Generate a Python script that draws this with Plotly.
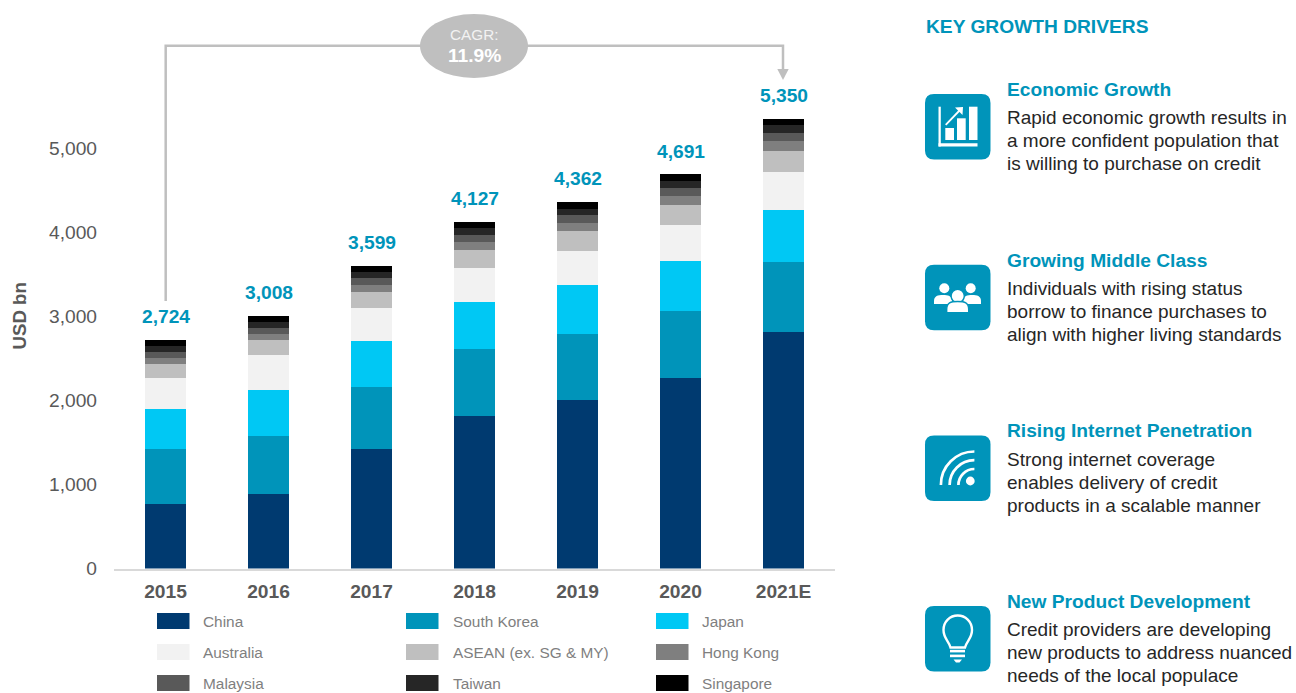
import plotly.graph_objects as go

W, H = 1296, 693
FONT = "Liberation Sans"

years = ["2015", "2016", "2017", "2018", "2019", "2020", "2021E"]
totals = [2724, 3008, 3599, 4127, 4362, 4691, 5350]
china = [764, 890, 1426, 1819, 2010, 2264, 2815]
south_korea = [655, 691, 738, 798, 785, 805, 837]
japan = [480, 544, 544, 552, 576, 592, 616]
australia = [369, 417, 393, 412, 409, 428, 452]
asean = [167, 178, 191, 211, 234, 238, 250]
hong_kong = [71, 72, 79, 95, 99, 108, 119]
malaysia = [71, 68, 84, 83, 95, 95, 96]
taiwan = [72, 71, 71, 80, 72, 83, 95]
singapore = [75, 77, 73, 77, 82, 78, 70]

series = [
    ("China", china, "#003A70"),
    ("South Korea", south_korea, "#0094BA"),
    ("Japan", japan, "#00C8F4"),
    ("Australia", australia, "#F2F2F2"),
    ("ASEAN (ex. SG & MY)", asean, "#BFBFBF"),
    ("Hong Kong", hong_kong, "#7F7F7F"),
    ("Malaysia", malaysia, "#595959"),
    ("Taiwan", taiwan, "#262626"),
    ("Singapore", singapore, "#000000"),
]

drivers = [
    ("Economic Growth", ["Rapid economic growth results in",
                         "a more confident population that",
                         "is willing to purchase on credit"]),
    ("Growing Middle Class", ["Individuals with rising status",
                              "borrow to finance purchases to",
                              "align with higher living standards"]),
    ("Rising Internet Penetration", ["Strong internet coverage",
                                     "enables delivery of credit",
                                     "products in a scalable manner"]),
    ("New Product Development", ["Credit providers are developing",
                                 "new products to address nuanced",
                                 "needs of the local populace"]),
]

TEAL = "#0094BA"
GREY = "#595959"
ARROW = "#BFBFBF"


def px(x):
    return x / W


def py(y):
    return 1 - y / H


def path(*cmds):
    out = []
    for c in cmds:
        letter, nums = c[0], c[1:]
        pts = [f"{px(nums[i]):.5f},{py(nums[i + 1]):.5f}" for i in range(0, len(nums), 2)]
        out.append(letter + " " + " ".join(pts))
    return " ".join(out)


shapes = []
annotations = []


def add_path(p, fill=None, line=None, lw=0):
    shapes.append(dict(type="path", xref="paper", yref="paper", path=p,
                       fillcolor=fill if fill else "rgba(0,0,0,0)",
                       line=dict(color=line if line else "rgba(0,0,0,0)", width=lw),
                       layer="above"))


def add_rect(x0, y0, x1, y1, fill):
    shapes.append(dict(type="rect", xref="paper", yref="paper", x0=px(x0), x1=px(x1),
                       y0=py(y0), y1=py(y1), fillcolor=fill, line=dict(width=0), layer="above"))


def add_circle(cx, cy, r, fill=None, line=None, lw=0):
    shapes.append(dict(type="circle", xref="paper", yref="paper", x0=px(cx - r), x1=px(cx + r),
                       y0=py(cy - r), y1=py(cy + r),
                       fillcolor=fill if fill else "rgba(0,0,0,0)",
                       line=dict(color=line if line else "rgba(0,0,0,0)", width=lw), layer="above"))


def text(x, y, s, size, color, bold=False, anchor="left"):
    annotations.append(dict(xref="paper", yref="paper", x=px(x), y=py(y), text=f"<b>{s}</b>" if bold else s,
                            showarrow=False, xanchor=anchor, yanchor="middle", borderpad=0,
                            xshift=-1 if anchor == "left" else 0,
                            font=dict(family=FONT, size=size, color=color)))


def rounded(x0, y0, x1, y1, r):
    return path(("M", x0 + r, y0), ("L", x1 - r, y0), ("Q", x1, y0, x1, y0 + r),
                ("L", x1, y1 - r), ("Q", x1, y1, x1 - r, y1), ("L", x0 + r, y1),
                ("Q", x0, y1, x0, y1 - r), ("L", x0, y0 + r), ("Q", x0, y0, x0 + r, y0), ("Z",))


# Bars
fig = go.Figure()
for name, vals, col in series:
    fig.add_trace(go.Bar(x=years, y=vals, name=name, marker=dict(color=col, line=dict(width=0)),
                         width=0.403, showlegend=False))

# Totals above bars (category position by index)
for i, tot in enumerate(totals):
    annotations.append(dict(xref="x", yref="y", x=i, y=tot, text=f"<b>{tot:,}</b>", showarrow=False,
                            yshift=23.4, yanchor="middle", xanchor="center",
                            font=dict(family=FONT, size=19.2, color=TEAL)))

# CAGR connector
add_path(path(("M", 165.7, 301), ("L", 165.7, 45.7), ("L", 783, 45.7), ("L", 783, 70)), line=ARROW, lw=2.5)
add_path(path(("M", 777.3, 69), ("L", 788.7, 69), ("L", 783, 80), ("Z",)), fill=ARROW)
shapes.append(dict(type="circle", xref="paper", yref="paper", x0=px(420), x1=px(528), y0=py(78), y1=py(14),
                   fillcolor=ARROW, line=dict(width=0), layer="above"))
text(474, 34.5, "CAGR:", 15.3, "#F2F2F2", anchor="center")
text(474, 55.5, "11.9%", 19.2, "#FFFFFF", bold=True, anchor="center")

# Axis title
annotations.append(dict(xref="paper", yref="paper", x=px(19), y=py(316.5), text="<b>USD bn</b>", showarrow=False,
                        textangle=-90, xanchor="center", yanchor="middle",
                        font=dict(family=FONT, size=18.67, color=GREY)))

# Legend
leg_x = [(157, 203), (406, 452.5), (656, 702)]
leg_y = [621, 652, 683]
leg_text_y = [621.8, 652.8, 683]
for i, (name, _, col) in enumerate(series):
    sx, tx = leg_x[i % 3]
    ly = leg_y[i // 3]
    add_rect(sx, ly - 8, sx + 32.5, ly + 8, col)
    text(tx, leg_text_y[i // 3], name, 15.4, "#7F7F7F")

# Right panel
text(926, 26.8, "KEY GROWTH DRIVERS", 19.2, TEAL, bold=True)
heads_y = [89, 260, 430.5, 601]
for (head, lines), hy in zip(drivers, heads_y):
    text(1007, hy, head, 19.2, TEAL, bold=True)
    for j, ln in enumerate(lines):
        text(1007, hy + 28.5 + 23 * j, ln, 19, "#262626")

# Icon tiles
tile_y = [94, 264.7, 435.5, 606]
for ty in tile_y:
    add_path(rounded(925, ty, 990.5, ty + 65.5, 9), fill=TEAL)

WHITE = "#FFFFFF"
# Icon 1: growth chart
add_rect(938.5, 106.7, 940.8, 146.5, WHITE)
add_rect(938.5, 143.3, 977.5, 146.5, WHITE)
add_rect(945.3, 128, 954, 140, WHITE)
add_rect(957, 118.3, 965.7, 140, WHITE)
add_rect(969, 106.7, 977.5, 140, WHITE)
add_path(path(("M", 945.7, 124.8), ("L", 960, 110)), line=WHITE, lw=1.8)
add_path(path(("M", 955, 107.5), ("L", 963, 107), ("L", 962.5, 115), ("Z",)), fill=WHITE)


def body(x0, x1, y0, y1):
    return path(("M", x0, y1), ("L", x0, y1 - 3), ("C", x0, y0 + 1, x0 + 4, y0, (x0 + x1) / 2, y0),
                ("C", x1 - 4, y0, x1, y0 + 1, x1, y1 - 3), ("L", x1, y1), ("Z",))


# Icon 2: people
add_circle(944.3, 288.3, 5, fill=WHITE)
add_circle(970.7, 288.3, 5, fill=WHITE)
add_path(body(934, 952, 295, 304), fill=WHITE)
add_path(body(963.3, 981, 295, 304), fill=WHITE)
add_circle(957.7, 296, 6.6, fill=WHITE, line=TEAL, lw=1.4)
add_path(body(946.7, 968.7, 301.5, 312.6), fill=WHITE, line=TEAL, lw=1.4)

# Icon 3: signal
add_circle(970.3, 481, 4.4, fill=WHITE)
k = 0.5523
for r in (33.5, 24.8, 16):
    cx, cy = 974.4, 485
    add_path(path(("M", cx - r, cy), ("C", cx - r, cy - k * r, cx - k * r, cy - r, cx, cy - r)), line=WHITE, lw=2.7)

# Icon 4: light bulb
add_path(path(("M", 950.5, 647.5), ("C", 949, 641, 943.5, 638.5, 943.5, 630),
              ("C", 943.5, 621.5, 950, 615.5, 957.7, 615.5),
              ("C", 965.4, 615.5, 972, 621.5, 972, 630),
              ("C", 972, 638.5, 966.5, 641, 965, 647.5), ("Z",)), line=WHITE, lw=2.4)
add_rect(950, 649.8, 965, 652.4, WHITE)
add_rect(950, 654.6, 965, 657.2, WHITE)
add_path(path(("M", 953.5, 659.4), ("L", 962, 659.4), ("L", 959.5, 662.6), ("L", 956, 662.6), ("Z",)), fill=WHITE)

Y0 = 568.5
SCALE = 0.084  # px per USD bn
fig.update_layout(
    width=W, height=H, autosize=False,
    margin=dict(l=0, r=0, t=0, b=0, pad=0),
    paper_bgcolor="white", plot_bgcolor="white",
    barmode="stack", bargap=0.597,
    showlegend=False,
    xaxis=dict(domain=[114 / W, 835 / W], type="category", categoryorder="array", categoryarray=years,
               range=[-0.5, 6.5], showgrid=False, zeroline=False, showline=True, linecolor="#D9D9D9", linewidth=1.5,
               ticks="", ticklabelstandoff=5, anchor="y", automargin=False,
               tickfont=dict(family=FONT, size=19.2, color=GREY, weight="bold")),
    yaxis=dict(domain=[(H - Y0) / H, 1], range=[0, Y0 / SCALE], showgrid=False, zeroline=False, showline=False,
               tickvals=[0, 1000, 2000, 3000, 4000, 5000], tickformat=",", ticks="", ticklabelstandoff=17,
               tickfont=dict(family=FONT, size=19.2, color=GREY), anchor="free", position=114 / W, automargin=False),
    shapes=shapes, annotations=annotations,
)

fig.write_html("out.html", config=dict(displayModeBar=False),
               post_script="document.body.style.margin='0';document.documentElement.style.overflow='hidden';")
